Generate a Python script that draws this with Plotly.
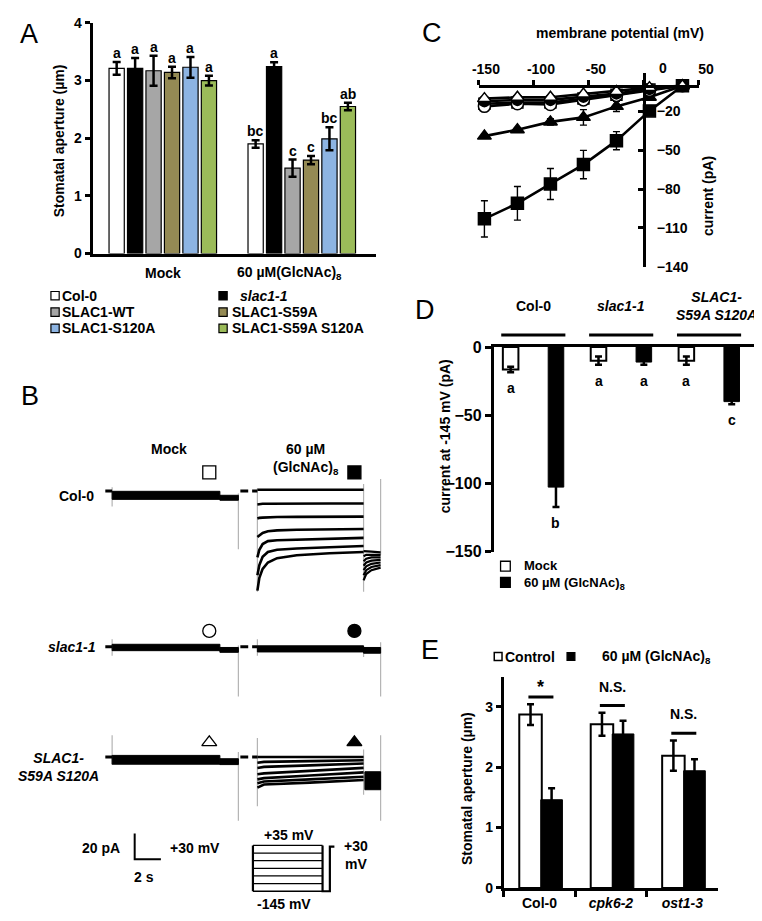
import plotly.graph_objects as go

W, H = 762, 921
FONT = "Liberation Sans, Arial, Helvetica, sans-serif"


def fx(p):
    return p / W


def fy(p):
    return 1 - p / H


# ======================= DATA =======================
# Panel A - stomatal aperture (µm)
a_conditions = ["Mock", "60 µM(GlcNAc)<sub>8</sub>"]
a_genotypes = ["Col-0", "<i>slac1-1</i>", "SLAC1-WT", "SLAC1-S59A",
               "SLAC1-S120A", "SLAC1-S59A S120A"]
a_colors = ["#ffffff", "#000000", "#a6a6a6", "#948a54", "#8db4e2", "#9bbb59"]
a_mock = [3.21, 3.21, 3.17, 3.14, 3.23, 3.00]
a_mock_err = [0.11, 0.18, 0.26, 0.10, 0.18, 0.085]
a_glc = [1.90, 3.24, 1.48, 1.62, 1.99, 2.55]
a_glc_err = [0.065, 0.075, 0.15, 0.07, 0.20, 0.065]
a_mock_letters = ["a", "a", "a", "a", "a", "a"]
a_glc_letters = ["bc", "a", "c", "c", "bc", "ab"]
a_yticks = [0, 1, 2, 3, 4]

# Panel B - current traces (time in s, current in pA relative to holding)
b_rows = ["Col-0", "<i>slac1-1</i>", "<i>SLAC1-<br>S59A S120A</i>"]
b_mock_hold = [0.0, 0.52]
b_mock_pulse = [0.52, 8.74]
b_mock_tail = [8.74, 10.15]
b_dash = [10.3, 10.9]
b_glc_hold = [11.2, 11.6]
b_glc_pulse = [11.6, 19.7]
b_glc_tail = [19.7, 21.0]
b_spike_t = [0.52, 10.15, 11.6, 19.7, 21.0]
b_spike_top = [[3, -2, 2, 5.6, 9.5], [6, 1, 6, 0, 3.6], [17, 4, 15, 6, 17]]
b_spike_bot = [[-12, -45.6, -79, -79, -50], [-7, -39, -7, -8, -39],
               [-6, -50, -38.5, -29.5, -50]]
b_mock_band = [[-0.2, -6.5], [2.0, -3.0], [1.3, -5.6]]
b_mock_tail_band = [[-3.3, -7.2], [-0.5, -4.3], [-1.3, -5.9]]
b_col0_t = [0, 0.15, 0.4, 0.8, 1.5, 3, 5.5, 8.1]
b_col0_sweeps = [
    [1, 1, 1, 1, 1, 1, 1, 1],
    [-10.5, -10.2, -10, -9.9, -9.8, -9.7, -9.7, -9.7],
    [-21.5, -21, -20.8, -20.5, -20.3, -20.2, -20, -20],
    [-36, -34.5, -32.8, -31.5, -30.8, -30.3, -30, -29.7],
    [-52, -46, -41.5, -39.2, -38.5, -38, -37.3, -36.7],
    [-66, -58, -51.5, -47.7, -46, -45, -44, -43],
    [-78, -68, -61, -56, -52.6, -50.3, -48.7, -47.7],
]
b_col0_tail_t = [0, 0.2, 0.6, 1.3]
b_col0_tail = [
    [-47, -47, -47.5, -48],
    [-51, -50, -50, -50],
    [-55, -53, -52, -52],
    [-58.5, -56, -54.5, -54],
    [-62, -59, -57, -56],
    [-66, -62, -59.5, -58],
    [-70, -65, -62, -60],
]
b_slac1_glc_band = [0.8, -4.0]
b_slac1_glc_tail = [-0.5, -5.0]
b_sa_t = [0, 0.5, 4, 8.1]
b_sa_sweeps = [
    [0, 0, 0, 0],
    [-4.5, -3.8, -3.2, -2.5],
    [-8.5, -7.7, -6.5, -5.1],
    [-13.5, -12.8, -10.8, -8.5],
    [-17.5, -16.5, -14.5, -12],
    [-20.5, -19.2, -17.5, -15.4],
    [-24, -21.5, -20, -18],
]
b_sa_tail_band = [-11.5, -25.6]
b_scale_pA = 20
b_scale_s = 2
p_levels = [35, 5, -25, -55, -85, -115, -145]
p_return = 30

# Panel C - I-V curves
c_voltage = [-145, -115, -85, -55, -25, 5, 35]
c_col0_mock = [-14, -13, -13, -10, -7, -3, 0]
c_col0_glc = [-103, -91, -76, -61, -42.5, -19.5, 0]
c_col0_glc_err = [14, 13, 12, 11, 7, 2, 1]
c_slac1_mock = [-16, -14, -14.5, -11, -7.5, -3.5, 0]
c_slac1_glc = [-12, -11, -11, -8.5, -6, -2.5, 0]
c_sa_mock = [-10, -9, -9, -6.5, -4.5, -1.5, 0]
c_sa_glc = [-39, -34, -28, -24.5, -16, -9, 0]
c_sa_glc_err = [1.5, 1.5, 2.5, 6, 4, 2, 1]
c_xticks = [-150, -100, -50, 0, 50]
c_yticks = [-140, -110, -80, -50, -20]

# Panel D - current at -145 mV
d_groups = ["Col-0", "<i>slac1-1</i>", "<i>SLAC1-<br>S59A S120A</i>"]
d_mock = [-16.4, -10, -10]
d_mock_err = [2, 3, 3]
d_glc = [-102.7, -11, -40]
d_glc_err = [14.5, 2, 2]
d_mock_letters = ["a", "a", "a"]
d_glc_letters = ["b", "a", "c"]
d_yticks = [-150, -100, -50, 0]

# Panel E - stomatal aperture
e_genotypes = ["Col-0", "<i>cpk6-2</i>", "<i>ost1-3</i>"]
e_control = [2.87, 2.71, 2.19]
e_control_err = [0.17, 0.19, 0.25]
e_glc = [1.46, 2.55, 1.94]
e_glc_err = [0.19, 0.22, 0.19]
e_sig = ["*", "N.S.", "N.S."]
e_yticks = [0, 1, 2, 3]

# ======================= FIGURE =======================
fig = go.Figure()
annotations = []
shapes = []


def ann(text, x, y, size=14, bold=True, xref="paper", yref="paper",
        xanchor="center", yanchor="middle", angle=0, xshift=0, yshift=0,
        align="center"):
    if xref == "paper":
        x = fx(x)
    if yref == "paper":
        y = fy(y)
    annotations.append(dict(
        text=text, x=x, y=y, xref=xref, yref=yref, showarrow=False,
        xanchor=xanchor, yanchor=yanchor, textangle=angle, align=align,
        xshift=xshift, yshift=yshift,
        font=dict(family=FONT, size=size, color="black",
                  weight="bold" if bold else "normal")))


def rect_px(x0, y0, x1, y1, fill, lw=1.3):
    shapes.append(dict(type="rect", xref="paper", yref="paper",
                       x0=fx(x0), x1=fx(x1), y0=fy(y0), y1=fy(y1),
                       fillcolor=fill, line=dict(color="black", width=lw)))


tickfont = dict(family=FONT, size=14, color="black", weight="bold")

# ---------------- Panel A ----------------
A_SLOT = 0.1328
A_W = 0.1097
for i in range(6):
    off = -3 * A_SLOT + i * A_SLOT + (A_SLOT - A_W) / 2
    fig.add_trace(go.Bar(
        x=[0, 1], y=[a_mock[i], a_glc[i]], width=A_W, offset=off,
        marker=dict(color=a_colors[i], line=dict(color="black", width=1.2)),
        error_y=dict(type="data", array=[a_mock_err[i], a_glc_err[i]],
                     color="black", thickness=2.5, width=4),
        xaxis="x", yaxis="y", showlegend=False, hoverinfo="skip"))
    for j, (vals, errs, lets) in enumerate([(a_mock, a_mock_err, a_mock_letters),
                                            (a_glc, a_glc_err, a_glc_letters)]):
        ann(lets[i], j + off + A_W / 2, vals[i] + errs[i], xref="x", yref="y",
            yanchor="bottom", yshift=-1)

ann(a_conditions[0], 0, 262, xref="x", size=14)
ann(a_conditions[1], 1, 262, xref="x", size=14, xshift=-12)
ann("Stomatal aperture (µm)", 45, 127, angle=-90, size=14)

legend_cols = [(37, 46.5), (210, 221)]
legend_rows = [285, 301.7, 318.3]
for k, name in enumerate(a_genotypes):
    r, c = divmod(k, 2)
    sq, tx = legend_cols[c]
    yc = legend_rows[r]
    rect_px(sq, yc - 4.3, sq + 8.5, yc + 4.3, a_colors[k], 1.2)
    ann(name, tx + (9 if k == 1 else 0), yc, xanchor="left", size=14)

# ---------------- Panel B ----------------
b_yaxes = ["y5", "y6", "y7"]
gray = "#b4b4b4"


def seg_line(xs, ys, yax, color="black", width=3.0):
    fig.add_trace(go.Scatter(x=xs, y=ys, mode="lines", xaxis="x5", yaxis=yax,
                             line=dict(color=color, width=width),
                             showlegend=False, hoverinfo="skip"))


def band(t0, t1, top, bot, yax):
    fig.add_trace(go.Scatter(x=[t0, t1, t1, t0, t0], y=[top, top, bot, bot, top],
                             mode="lines", fill="toself", fillcolor="black",
                             line=dict(color="black", width=1), xaxis="x5",
                             yaxis=yax, showlegend=False, hoverinfo="skip"))


for r, yax in enumerate(b_yaxes):
    # transient (capacitive) spikes
    sx, sy = [], []
    for t, top, bot in zip(b_spike_t, b_spike_top[r], b_spike_bot[r]):
        sx += [t, t, None]
        sy += [top, bot, None]
    seg_line(sx, sy, yax, color=gray, width=1.2)
    # holding segments
    hx, hy = [], []
    for seg in (b_mock_hold, b_dash, b_glc_hold):
        hx += [seg[0], seg[1], None]
        hy += [0, 0, None]
    seg_line(hx, hy, yax, width=3)
    # mock pulse + tail
    band(b_mock_pulse[0], b_mock_pulse[1], b_mock_band[r][0], b_mock_band[r][1], yax)
    band(b_mock_tail[0], b_mock_tail[1], b_mock_tail_band[r][0], b_mock_tail_band[r][1], yax)

# Col-0 (GlcNAc)8 sweeps
for sw in b_col0_sweeps:
    seg_line([b_glc_pulse[0] + t for t in b_col0_t], sw, "y5", width=2.6)
for tl in b_col0_tail:
    seg_line([b_glc_tail[0] + t for t in b_col0_tail_t], tl, "y5", width=2.2)
# slac1-1 (GlcNAc)8
band(b_glc_pulse[0], b_glc_pulse[1], b_slac1_glc_band[0], b_slac1_glc_band[1], "y6")
band(b_glc_tail[0], b_glc_tail[1], b_slac1_glc_tail[0], b_slac1_glc_tail[1], "y6")
# SLAC1-S59A S120A (GlcNAc)8
for sw in b_sa_sweeps:
    seg_line([b_glc_pulse[0] + t for t in b_sa_t], sw, "y7", width=2.6)
band(b_glc_tail[0] + 0.1, b_glc_tail[1], b_sa_tail_band[0], b_sa_tail_band[1], "y7")

# condition symbols above traces
sym_rows = [("square", 14.6), ("circle", 12.5), ("triangle-up", 11.5)]
for (sym, yv), yax in zip(sym_rows, b_yaxes):
    fig.add_trace(go.Scatter(
        x=[7.93, 19.0], y=[yv, yv], mode="markers", xaxis="x5", yaxis=yax,
        marker=dict(symbol=sym, size=13, color=["white", "black"],
                    line=dict(color="black", width=1.3)),
        cliponaxis=False, showlegend=False, hoverinfo="skip"))

# scale bar
fig.add_trace(go.Scatter(
    x=[2.24, 2.24, 2.24 + b_scale_s], y=[-60, -60 - b_scale_pA, -60 - b_scale_pA],
    mode="lines", xaxis="x5", yaxis="y7", line=dict(color="black", width=2),
    cliponaxis=False, showlegend=False, hoverinfo="skip"))

# voltage protocol
for lv in p_levels:
    fig.add_trace(go.Scatter(x=[0, 1], y=[lv, lv], mode="lines", xaxis="x8", yaxis="y8",
                             line=dict(color="black", width=1.3), showlegend=False,
                             hoverinfo="skip"))
fig.add_trace(go.Scatter(
    x=[0, 0, None, 1, 1, 1.105, 1.105, 1.17],
    y=[max(p_levels), min(p_levels), None, max(p_levels), min(p_levels),
       min(p_levels), p_return, p_return],
    mode="lines", xaxis="x8", yaxis="y8", line=dict(color="black", width=2.2),
    showlegend=False, hoverinfo="skip"))

ann("Mock", 158.8, 441.5)
ann("60 µM<br>(GlcNAc)<sub>8</sub>", 300, 451)
ann(b_rows[0], 63.3, 489)
ann(b_rows[1], 85, 643, xanchor="right")
ann(b_rows[2], 44.5, 765)
ann("20 pA", 89, 847.5)
ann("2 s", 132.5, 877.5)
ann("+30 mV", 185, 847.5)
ann("+35 mV", 282.5, 834)
ann("-145 mV", 276.7, 905)
ann("+30<br>mV", 351, 855)

# ---------------- Panel C ----------------
c_series = [
    (c_col0_mock, None, "square", "white", 11),
    (c_col0_glc, c_col0_glc_err, "square", "black", 12),
    (c_sa_glc, c_sa_glc_err, "triangle-up", "black", 12),
    (c_slac1_mock, None, "circle", "white", 12),
    (c_slac1_glc, None, "circle", "black", 11),
    (c_sa_mock, None, "triangle-up", "white", 12),
]
for vals, err, sym, fill, sz in c_series:
    fig.add_trace(go.Scatter(
        x=c_voltage, y=vals, mode="lines+markers", xaxis="x2", yaxis="y2",
        line=dict(color="black", width=2.6),
        marker=dict(symbol=sym, size=sz, color=fill, line=dict(color="black", width=1.5)),
        error_y=(dict(type="data", array=err, color="black", thickness=1.4, width=3.5)
                 if err else None),
        cliponaxis=False, showlegend=False, hoverinfo="skip"))

ann("membrane potential (mV)", 623, 17)
ann("0", 0, 53.3, xref="x2", xshift=19)
ann("current (pA)", 713, 183, angle=-90)

# ---------------- Panel D ----------------
D_W = 0.177
D_OFF = 0.258
fig.add_trace(go.Bar(
    x=[0, 1, 2], y=d_mock, width=D_W, offset=-D_OFF - D_W / 2,
    marker=dict(color="white", line=dict(color="black", width=2)),
    error_y=dict(type="data", array=d_mock_err, color="black", thickness=2.5, width=3.5),
    xaxis="x3", yaxis="y3", showlegend=False, hoverinfo="skip"))
fig.add_trace(go.Bar(
    x=[0, 1, 2], y=d_glc, width=D_W, offset=D_OFF - D_W / 2,
    marker=dict(color="black", line=dict(color="black", width=1)),
    error_y=dict(type="data", array=d_glc_err, color="black", thickness=2.5, width=3.5),
    xaxis="x3", yaxis="y3", showlegend=False, hoverinfo="skip"))
for g in range(3):
    ann(d_mock_letters[g], g - D_OFF, d_mock[g] - d_mock_err[g], xref="x3", yref="y3",
        yanchor="top", yshift=-6)
    ann(d_glc_letters[g], g + D_OFF, d_glc[g] - d_glc_err[g], xref="x3", yref="y3",
        yanchor="top", yshift=-6)
    ann(d_groups[g], g + (0.08 if g == 2 else 0), 295, xref="x3", size=14)
    shapes.append(dict(type="line", xref="x3", yref="paper", x0=g - 0.365, x1=g + 0.365,
                       y0=fy(325), y1=fy(325), line=dict(color="black", width=3)))
ann("current at -145 mV (pA)", 443, 428, angle=-90)
rect_px(500, 555.5, 510, 565.5, "white", 1.3)
rect_px(500, 572, 510, 582, "black", 1.3)
ann("Mock", 521.7, 560, xanchor="left", size=13)
ann("60 µM (GlcNAc)<sub>8</sub>", 521.7, 578.5, xanchor="left", size=13)

# ---------------- Panel E ----------------
fig.add_trace(go.Bar(
    x=e_genotypes, y=e_control, width=0.315, offset=-0.283,
    marker=dict(color="white", line=dict(color="black", width=2)),
    error_y=dict(type="data", array=e_control_err, color="black", thickness=2.5, width=3.5),
    xaxis="x4", yaxis="y4", showlegend=False, hoverinfo="skip"))
fig.add_trace(go.Bar(
    x=e_genotypes, y=e_glc, width=0.303, offset=0.018,
    marker=dict(color="black", line=dict(color="black", width=1)),
    error_y=dict(type="data", array=e_glc_err, color="black", thickness=2.5, width=3.5),
    xaxis="x4", yaxis="y4", showlegend=False, hoverinfo="skip"))
for g in range(3):
    top = max(e_control[g] + e_control_err[g], e_glc[g] + e_glc_err[g]) + 0.12
    shapes.append(dict(type="line", xref="x4", yref="y4", x0=g - 0.155, x1=g + 0.195,
                       y0=top, y1=top, line=dict(color="black", width=3)))
    ann(e_sig[g], g + 0.02, top, xref="x4", yref="y4", size=18 if e_sig[g] == "*" else 14,
        yshift=10 if e_sig[g] == "*" else 19)
ann("Stomatal aperture (µm)", 466, 787, angle=-90)
rect_px(493.5, 648.5, 501.5, 656.5, "white", 1.5)
ann("Control", 502.5, 652.7, xanchor="left")
rect_px(568.5, 648.5, 576.5, 656.5, "black", 1.3)
ann("60 µM (GlcNAc)<sub>8</sub>", 602, 652.7, xanchor="left")

# ---------------- Panel letters ----------------
for letter, x, y in [("A", 14, 18), ("B", 15, 387), ("C", 429, 17), ("D", 422, 300),
                     ("E", 427, 646)]:
    ann(letter, x, y, size=27, bold=False)

# ---------------- Axes ----------------
common = dict(showgrid=False, zeroline=False, linecolor="black", tickcolor="black",
              tickfont=tickfont)
b_scale = 1.3  # px per pA
fig.update_layout(
    width=W, height=H, margin=dict(l=0, r=0, t=0, b=0),
    paper_bgcolor="white", plot_bgcolor="rgba(0,0,0,0)",
    barmode="overlay", showlegend=False,
    font=dict(family=FONT, size=14, color="black"),
    annotations=annotations, shapes=shapes,
    # Panel A
    xaxis=dict(domain=[fx(80), fx(372)], range=[-0.5045, 1.536], anchor="y",
               showline=True, linewidth=3, ticks="", showticklabels=False, **common),
    yaxis=dict(domain=[fy(242), fy(7)], range=[0, 4], anchor="x", tickvals=a_yticks,
               showline=True, linewidth=3, ticks="outside", ticklen=5, tickwidth=2.5,
               **common),
    # Panel C
    xaxis2=dict(domain=[fx(477.7), fx(704.3)], range=[-150, 50], anchor="free",
                position=fy(71), side="top", showline=True, linewidth=3,
                ticks="outside", ticklen=5, tickwidth=2.5, tickvals=c_xticks,
                ticktext=[str(v) if v != 0 else "" for v in c_xticks],
                ticklabelshift=7, **common),
    yaxis2=dict(domain=[fy(255.4), fy(58.3)], range=[-140, 9.64], anchor="free",
                position=fx(647.7), side="right", showline=True, linewidth=3,
                ticks="inside", ticklen=5, tickwidth=2.5, tickvals=c_yticks,
                ticklabelstandoff=8, **common),
    # Panel D
    xaxis3=dict(domain=[fx(493), 1.0], range=[-0.45, 2.523], anchor="y3", side="top",
                showline=True, linewidth=3, ticks="", showticklabels=False, **common),
    yaxis3=dict(domain=[fy(545.7), fy(337.3)], range=[-150, 0], anchor="x3",
                showline=True, linewidth=3, ticks="outside", ticklen=6, tickwidth=2.5,
                tickvals=d_yticks, showgrid=False, zeroline=False, linecolor="black",
                tickcolor="black",
                tickfont=dict(family=FONT, size=16, color="black", weight="bold")),
    # Panel E
    xaxis4=dict(domain=[fx(503.3), fx(724)], type="category", range=[-0.5, 2.5],
                anchor="y4", showline=True, linewidth=3, ticks="outside",
                tickson="boundaries", ticklen=6, tickwidth=2.5, **common),
    yaxis4=dict(domain=[fy(888.3), fy(673)], range=[0, 3.5], anchor="x4",
                tickvals=e_yticks, showline=True, linewidth=3, ticks="outside",
                ticklen=5, tickwidth=2.5, **common),
    # Panel B (hidden axes)
    xaxis5=dict(domain=[fx(80), fx(380)], range=[-0.963, 21.26], anchor="y5",
                visible=False),
    yaxis5=dict(domain=[fy(600), fy(455)], range=[(484 - 600) / b_scale, (484 - 455) / b_scale],
                anchor="x5", visible=False),
    yaxis6=dict(domain=[fy(705), fy(612)], range=[(642.7 - 705) / b_scale, (642.7 - 612) / b_scale],
                anchor="x5", visible=False),
    yaxis7=dict(domain=[fy(862), fy(728)], range=[(755 - 862) / b_scale, (755 - 728) / b_scale],
                anchor="x5", visible=False),
    xaxis8=dict(domain=[fx(243), fx(332)], range=[-2 / 71.7, 87 / 71.7], anchor="y8",
                visible=False),
    yaxis8=dict(domain=[fy(894), fy(843)], range=[-153.9, 42.7], anchor="x8",
                visible=False),
)

fig.write_html("out.html")
